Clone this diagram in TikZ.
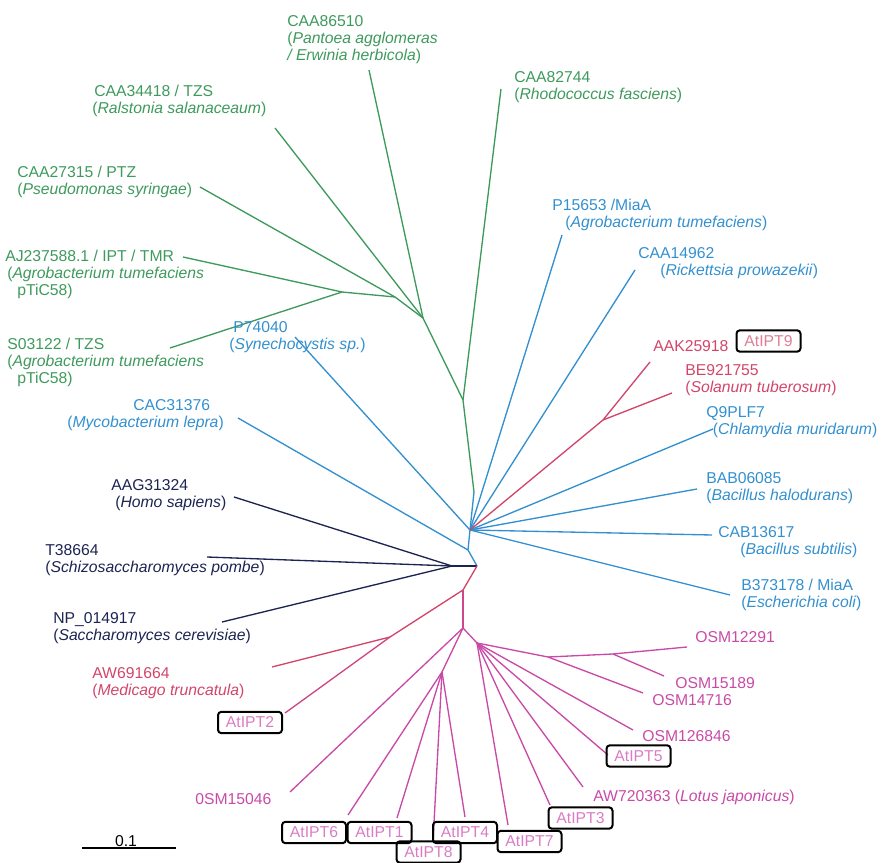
\documentclass[tikz,border=0pt]{standalone}
\usepackage{fontspec}
\setmainfont{Liberation Sans}
\definecolor{grn}{HTML}{3E9A5C}
\definecolor{blu}{HTML}{3390CF}
\definecolor{nvy}{HTML}{1C2452}
\definecolor{crim}{HTML}{D2456A}
\definecolor{mag}{HTML}{C94AA6}
\definecolor{pnk}{HTML}{DA7CC4}
\tikzset{
  br/.style={line width=1pt},
  lbl/.style={inner sep=0pt, anchor=west, align=left, font=\fontsize{11.8}{12.75}\selectfont},
  ipt/.style={draw=black, line width=1.5pt, rounded corners=2.5pt, inner sep=0pt,
    minimum width=48pt, minimum height=16pt, text=pnk, font=\fontsize{11.8}{12.75}\selectfont}
}

\begin{document}
\begin{tikzpicture}[x=0.75pt, y=-0.75pt]
    \useasboundingbox (0,0) rectangle (883,863);
    % inner nodes of the tree
    \coordinate (R) at (477,566);
    \coordinate (B) at (452,566);
    \coordinate (N1) at (468,550);
    \coordinate (N2) at (470,530);
    \coordinate (Gs) at (474,492);
    \coordinate (Gd) at (463,400);
    \coordinate (Gc) at (423,318);
    \coordinate (Gb) at (395,297);
    \coordinate (Ga) at (342,292);
    \coordinate (Rn) at (603,420);
    \coordinate (Mb) at (463,590);
    \coordinate (Ma) at (390,637);
    \coordinate (Mc) at (463,628);
    \coordinate (Md) at (442,672);
    \coordinate (Me) at (477,643);
    \coordinate (Mf) at (548,657);
    \coordinate (Mg) at (613,654);
    % leaf ends
    \coordinate (t86510) at (369,70);
    \coordinate (t34418) at (275,128);
    \coordinate (t27315) at (200,187);
    \coordinate (tAJ) at (183,257);
    \coordinate (tS03) at (170,348);
    \coordinate (t82744) at (501,89);
    \coordinate (t15653) at (562,235);
    \coordinate (t14962) at (635,270);
    \coordinate (tP74) at (295,337);
    \coordinate (tCAC) at (238,418);
    \coordinate (tQ9) at (713,429);
    \coordinate (tBAB) at (697,489);
    \coordinate (tCAB) at (712,535);
    \coordinate (tB37) at (730,595);
    \coordinate (tAAG) at (234,497);
    \coordinate (tT38) at (207,557);
    \coordinate (tNP) at (222,622);
    \coordinate (tAAK) at (650,362);
    \coordinate (tBE) at (672,393);
    \coordinate (tAW69) at (272,667);
    \coordinate (tIPT2) at (285,713);
    \coordinate (t15046) at (290,792);
    \coordinate (tIPT6) at (348,815);
    \coordinate (tIPT1) at (397,818);
    \coordinate (tIPT8) at (433,842);
    \coordinate (tIPT4) at (465,817);
    \coordinate (tIPT7) at (508,825);
    \coordinate (tIPT3) at (550,805);
    \coordinate (tAW72) at (583,787);
    \coordinate (tIPT5) at (608,755);
    \coordinate (t126846) at (633,730);
    \coordinate (t14716) at (643,693);
    \coordinate (t15189) at (664,676);
    \coordinate (t12291) at (687,647);

    % green clade
    \foreach \t in {tAJ,tS03} \draw[br,grn] (Ga) -- (\t);
    \draw[br,grn] (Gb) -- (Ga);
    \draw[br,grn] (Gb) -- (t27315);
    \draw[br,grn] (Gc) -- (Gb);
    \foreach \t in {t34418,t86510} \draw[br,grn] (Gc) -- (\t);
    \draw[br,grn] (Gd) -- (Gc);
    \draw[br,grn] (Gd) -- (t82744);
    \draw[br,grn] (Gs) -- (Gd);
    % blue clade
    \draw[br,blu] (N2) -- (Gs);
    \foreach \t in {t15653,t14962,tP74,tQ9,tBAB,tCAB,tB37} \draw[br,blu] (N2) -- (\t);
    \draw[br,blu] (N1) -- (N2);
    \draw[br,blu] (N1) -- (tCAC);
    \draw[br,blu] (R) -- (N1);
    % red pair
    \draw[br,crim] (N2) -- (Rn);
    \foreach \t in {tAAK,tBE} \draw[br,crim] (Rn) -- (\t);
    % yeasts and man
    \draw[br,nvy] (R) -- (B);
    \foreach \t in {tAAG,tT38,tNP} \draw[br,nvy] (B) -- (\t);
    % plant clade
    \draw[br,crim] (R) -- (Mb);
    \draw[br,crim] (Mb) -- (Ma);
    \draw[br,crim] (Ma) -- (tAW69);
    \draw[br,crim!60!mag] (Ma) -- (tIPT2);
    \draw[br,crim!50!mag] (Mb) -- (Mc);
    \draw[br,mag] (Mc) -- (t15046);
    \draw[br,mag] (Mc) -- (Md);
    \foreach \t in {tIPT6,tIPT1,tIPT8,tIPT4} \draw[br,mag] (Md) -- (\t);
    \draw[br,mag] (Mc) -- (Me);
    \foreach \t in {tIPT7,tIPT3,tAW72,tIPT5,t126846} \draw[br,mag] (Me) -- (\t);
    \draw[br,mag] (Me) -- (Mf);
    \draw[br,mag] (Mf) -- (t14716);
    \draw[br,mag] (Mf) -- (Mg);
    \foreach \t in {t15189,t12291} \draw[br,mag] (Mg) -- (\t);

    % labels
    \node[lbl,text=grn] (l86510) at (287,40) {CAA86510\\(\textit{Pantoea agglomeras}\\\textit{/ Erwinia herbicola})};
    \node[lbl,text=grn] (l34418) at (92,100.5) {\hspace*{1.5pt}CAA34418 / TZS\\(\textit{Ralstonia salanaceaum})};
    \node[lbl,text=grn] (l27315) at (17,182) {CAA27315 / PTZ\\(\textit{Pseudomonas syringae})};
    \node[lbl,text=grn] (lAJ) at (5,274) {AJ237588.1 / IPT / TMR\\\hspace*{1.5pt}(\textit{Agrobacterium tumefaciens}\\\hspace*{9pt}pTiC58)};
    \node[lbl,text=grn] (lS03) at (7,362) {S03122 / TZS\\(\textit{Agrobacterium tumefaciens}\\\hspace*{7.5pt}pTiC58)};
    \node[lbl,text=grn] (l82744) at (514,87.5) {CAA82744\\(\textit{Rhodococcus fasciens})};
    \node[lbl,text=blu] (l15653) at (552,215) {P15653 /MiaA\\\hspace*{9.75pt}(\textit{Agrobacterium tumefaciens})};
    \node[lbl,text=blu] (l14962) at (638,263.5) {CAA14962\\\hspace*{16.5pt}(\textit{Rickettsia prowazekii})};
    \node[lbl,text=blu] (lP74) at (229,337.5) {\hspace*{3pt}P74040\\(\textit{Synechocystis sp.})};
    \node[lbl,text=blu] (lCAC) at (67,415.5) {\hspace*{49.5pt}CAC31376\\(\textit{Mycobacterium lepra})};
    \node[lbl,text=blu] (lQ9) at (706,422) {Q9PLF7\\\hspace*{5pt}(\textit{Chlamydia muridarum})};
    \node[lbl,text=blu] (lBAB) at (706,488) {BAB06085\\(\textit{Bacillus halodurans})};
    \node[lbl,text=blu] (lCAB) at (718,542.5) {CAB13617\\\hspace*{16.5pt}(\textit{Bacillus subtilis})};
    \node[lbl,text=blu] (lB37) at (741,594.5) {B373178 / MiaA\\(\textit{Escherichia coli})};
    \node[lbl,text=nvy] (lAAG) at (111,495) {AAG31324\\\hspace*{3pt}(\textit{Homo sapiens})};
    \node[lbl,text=nvy] (lT38) at (45,560) {T38664\\(\textit{Schizosaccharomyces pombe})};
    \node[lbl,text=nvy] (lNP) at (53,628.5) {NP\_014917\\(\textit{Saccharomyces cerevisiae})};
    \node[lbl,text=crim] (lAW69) at (92,683.5) {AW691664\\(\textit{Medicago truncatula})};
    \node[lbl,text=crim] (lAAK) at (653,346) {AAK25918};
    \node[lbl,text=crim] (lBE) at (685,380.5) {BE921755\\(\textit{Solanum tuberosum})};
    \node[lbl,text=mag] (l12291) at (695,637) {OSM12291};
    \node[lbl,text=mag] (l15189) at (675,683) {OSM15189};
    \node[lbl,text=mag] (l14716) at (652,700) {OSM14716};
    \node[lbl,text=mag] (l126846) at (642,736) {OSM126846};
    \node[lbl,text=mag] (lAW72) at (593,797) {AW720363 (\textit{Lotus japonicus})};
    \node[lbl,text=mag] (l15046) at (195,799) {0SM15046};

    % Arabidopsis genes in boxes
    \node[ipt,text=crim!70] (b9) at (768.5,341) {AtIPT9};
    \node[ipt] (b2) at (250,722.5) {AtIPT2};
    \node[ipt] (b5) at (638.5,756) {AtIPT5};
    \node[ipt] (b3) at (580.5,818) {AtIPT3};
    \node[ipt] (b7) at (529.5,841.5) {AtIPT7};
    \node[ipt] (b4) at (465,832.5) {AtIPT4};
    \node[ipt] (b8) at (428.5,852) {AtIPT8};
    \node[ipt] (b1) at (379.5,832.5) {AtIPT1};
    \node[ipt] (b6) at (314,832.5) {AtIPT6};

    % scale bar
    \coordinate (sb1) at (82,848);
    \coordinate (sb2) at (176,848);
    \draw[line width=1.2pt] (sb1) -- (sb2);
    \node[inner sep=0pt, anchor=south, font=\fontsize{11.8}{12.75}\selectfont] (sbl) at (126,847) {0.1};
\end{tikzpicture}
\end{document}
